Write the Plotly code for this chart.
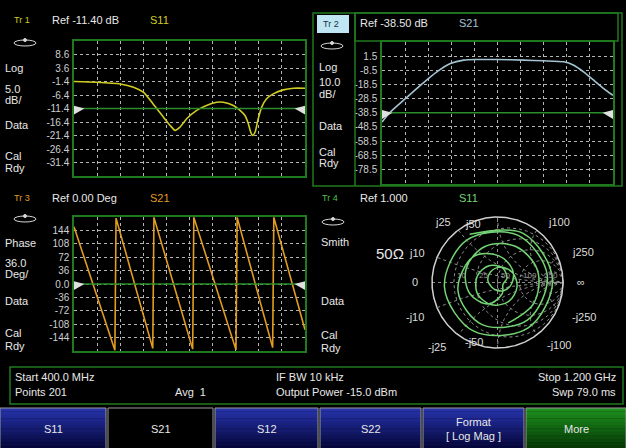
import numpy as np
import plotly.graph_objects as go

W, H = 626, 448

# ---------------- data ----------------
start_mhz = 400.0
stop_mhz = 1200.0
freq_grid_mhz = [480, 560, 640, 720, 800, 880, 960, 1040, 1120]

# Trace 1 : S11 Log Mag
tr1_freq_mhz = [400, 478, 560, 606, 640, 674, 710, 733, 750, 767, 790, 825, 859, 894, 917,
                952, 975, 992, 1004, 1012, 1018, 1027, 1038, 1050, 1067, 1090, 1125, 1160, 1200]
tr1_s11_db = [-1.4, -1.65, -2.3, -3.5, -5.35, -9.7, -14.6, -17.7, -19.5, -18.3, -15.2, -12.1, -10.3, -9.1, -9.1,
              -10.3, -12.1, -14.0, -17.1, -20.2, -21.4, -20.2, -15.2, -10.9, -7.8, -6.0, -4.5, -3.9, -3.9]
tr1_ref = -11.40
tr1_per_div = 5.0
tr1_tick_vals = [8.6, 3.6, -1.4, -6.4, -11.4, -16.4, -21.4, -26.4, -31.4]
tr1_tick_text = ["8.6", "3.6", "-1.4", "-6.4", "-11.4", "-16.4", "-21.4", "-26.4", "-31.4"]

# Trace 2 : S21 Log Mag
tr2_freq_mhz = [400, 429, 481, 533, 590, 637, 683, 729, 798, 890, 960, 1029, 1064, 1098, 1133, 1168, 1200]
tr2_s21_db = [-45.1, -38.0, -28.5, -19.1, -9.6, -3.7, -1.3, -0.9, -0.9, -1.3, -1.8, -2.5, -4.9, -9.6, -15.5, -21.4, -26.2]
tr2_ref = -38.50
tr2_per_div = 10.0
tr2_tick_vals = [1.5, -8.5, -18.5, -28.5, -38.5, -48.5, -58.5, -68.5, -78.5]
tr2_tick_text = ["1.5", "-8.5", "-18.5", "-28.5", "-38.5", "-48.5", "-58.5", "-68.5", "-78.5"]

# Trace 3 : S21 Phase
tr3_freq_mhz = [400, 541.6, 545.6, 672.8, 676.8, 811, 815, 961, 965, 1088, 1092, 1200]
tr3_s21_deg = [153.6, -178, 177, -173, 179, -175, 179, -177, 179, -171, 179, -123]
tr3_ref = 0.0
tr3_per_div = 36.0
tr3_tick_vals = [144, 108, 72, 36, 0, -36, -72, -108, -144]
tr3_tick_text = ["144", "108", "72", "36", "0.0", "-36", "-72", "-108", "-144"]

# Trace 4 : S11 Smith (magnitude dB, phase deg), 400..1200 MHz in 20 MHz steps
tr4_s11_db = [-1.4, -1.45, -1.5, -1.55, -1.65, -1.8, -1.95, -2.1, -2.3, -2.7, -3.3, -4.2, -5.35, -7.8,
              -10.4, -13.3, -16.0, -18.5, -18.9, -16.6, -14.3, -12.4, -11.2, -10.3, -9.5, -9.1, -9.1,
              -9.8, -10.8, -12.6, -15.9, -21.0, -14.6, -9.0, -6.8, -5.6, -4.7, -4.2, -3.9, -3.9, -3.9]
tr4_s11_deg = [120, 62, 3, -56, -116, -175, 126, 67, 8, -51, -110, -168, 133,
               87, 41, -5, -51, -97, -143, 171, 125, 79, 33, -13, -59, -105, -151, 163,
               117, 71, 25, -21, -67, -113, -159, 155, 109, 63, 17, -29, -75]
smith_r_grid = [0.2, 0.5, 1.0, 2.0, 5.0]
smith_x_grid = [0.2, 0.5, 1.0, 2.0, 5.0]
smith_r_labels = ["10", "25", "50", "100", "250"]

# ---------------- styling ----------------
FONT = "Liberation Sans"
GREEN = "#1f7a1f"
GRID = "#b4b4b4"
WHITE = "#e8e8e8"
C_TR1 = "#d0cc22"
C_TR2 = "#a4c4d4"
C_TR3 = "#e29c22"
C_TR4 = "#74d474"


def fx(p):
    return p / W


def fy(p):
    return 1 - p / H


fig = go.Figure()
shapes = []
annotations = []


def text(s, x, y, color=WHITE, size=11, anchor="left"):
    annotations.append(dict(text=s, x=fx(x), y=fy(y), xref="paper", yref="paper",
                            xanchor=anchor, yanchor="middle", showarrow=False,
                            font=dict(family=FONT, size=size, color=color)))


def rect(x0, y0, x1, y1, line=None, fill=None, width=1.5, layer="above"):
    shapes.append(dict(type="rect", xref="paper", yref="paper",
                       x0=fx(x0), x1=fx(x1), y0=fy(y0), y1=fy(y1),
                       line=dict(color=line if line else "rgba(0,0,0,0)", width=width if line else 0),
                       fillcolor=fill if fill else "rgba(0,0,0,0)", layer=layer))


def ellipse_icon(x0, y0, x1, y1):
    shapes.append(dict(type="circle", xref="paper", yref="paper",
                       x0=fx(x0), x1=fx(x1), y0=fy(y0), y1=fy(y1),
                       line=dict(color="#d8d8d8", width=1)))
    cx = (x0 + x1) / 2
    shapes.append(dict(type="circle", xref="paper", yref="paper",
                       x0=fx(cx - 1.5), x1=fx(cx + 1.5), y0=fy(y0 - 1.5), y1=fy(y0 + 1.5),
                       line=dict(color="#d8d8d8", width=1), fillcolor="#d8d8d8"))


axis_base = dict(showline=True, mirror=True, linecolor=GREEN, linewidth=1.5,
                 showgrid=True, gridcolor=GRID, gridwidth=1, griddash="dot",
                 zeroline=False, ticks="", fixedrange=True)


def rect_plot(idx, xdom, ydom, freqs, vals, color, ref, per_div, tvals, ttext, spline=True):
    xa = "xaxis" if idx == 1 else f"xaxis{idx}"
    ya = "yaxis" if idx == 1 else f"yaxis{idx}"
    xs = "x" if idx == 1 else f"x{idx}"
    ys = "y" if idx == 1 else f"y{idx}"
    lo, hi = ref - 5 * per_div, ref + 5 * per_div
    fig.update_layout(**{
        xa: dict(axis_base, domain=[fx(xdom[0]), fx(xdom[1])], range=[start_mhz, stop_mhz],
                 tickvals=freq_grid_mhz, showticklabels=False, anchor=ys),
        ya: dict(axis_base, domain=[fy(ydom[1]), fy(ydom[0])], range=[lo, hi],
                 tickvals=tvals, ticktext=ttext, anchor=xs, ticklabelstandoff=1,
                 tickfont=dict(family=FONT, size=10, color="#cfcfcf")),
    })
    fig.add_trace(go.Scatter(x=freqs, y=vals, xaxis=xs, yaxis=ys, mode="lines",
                             line=dict(color=color, width=1.6,
                                       shape="spline" if spline else "linear", smoothing=0.6),
                             hoverinfo="skip", showlegend=False))
    # reference line
    shapes.append(dict(type="line", xref=f"{xs} domain", x0=0, x1=1, yref=ys, y0=ref, y1=ref,
                       line=dict(color="#2a8c2a", width=1.5)))
    f = (ref - lo) / (hi - lo)
    shapes.append(dict(type="path", xref=f"{xs} domain", yref=f"{ys} domain",
                       path=f"M 0,{f + 0.02} L 0.045,{f} L 0,{f - 0.045} Z",
                       fillcolor="#e0e0e0", line=dict(width=0)))
    shapes.append(dict(type="path", xref=f"{xs} domain", yref=f"{ys} domain",
                       path=f"M 1,{f + 0.02} L 0.955,{f} L 1,{f - 0.045} Z",
                       fillcolor="#e0e0e0", line=dict(width=0)))


# ---------- Tr1 ----------
rect_plot(1, (74, 305), (41, 176), tr1_freq_mhz, tr1_s11_db, C_TR1, tr1_ref, tr1_per_div,
          tr1_tick_vals, tr1_tick_text)
text("Tr 1", 12, 20, C_TR1, 9)
text("Ref -11.40 dB", 50, 20, WHITE, 11)
text("S11", 148, 20, C_TR1, 11)
ellipse_icon(14, 40, 36, 46)
for s, yy in [("Log", 68), ("5.0", 89), ("dB/", 100), ("Data", 125), ("Cal", 156), ("Rdy", 168)]:
    text(s, 3, yy, WHITE, 11)

# ---------- Tr2 ----------
rect_plot(2, (382, 613), (42, 183.5), tr2_freq_mhz, tr2_s21_db, C_TR2, tr2_ref, tr2_per_div,
          tr2_tick_vals, tr2_tick_text)
rect(313, 13, 622, 186, line=GREEN, width=1.5)
rect(355, 13, 618, 41, line=GREEN, width=1.5)
shapes.append(dict(type="line", xref="paper", yref="paper", x0=fx(355), x1=fx(355),
                   y0=fy(13), y1=fy(186), line=dict(color=GREEN, width=1.5)))
rect(317, 15, 349, 33, fill="#bfe6f2")
text("Tr 2", 321, 24, "#16323e", 9)
text("Ref -38.50 dB", 358, 23, WHITE, 11)
text("S21", 457, 23, C_TR2, 11)
ellipse_icon(321, 43, 343, 49)
for s, yy in [("Log", 67), ("10.0", 82), ("dB/", 94), ("Data", 126), ("Cal", 152), ("Rdy", 163)]:
    text(s, 317, yy, WHITE, 11)

# ---------- Tr3 ----------
rect_plot(3, (74, 305), (217, 351), tr3_freq_mhz, tr3_s21_deg, C_TR3, tr3_ref, tr3_per_div,
          tr3_tick_vals, tr3_tick_text, spline=False)
text("Tr 3", 12, 198, C_TR3, 9)
text("Ref 0.00 Deg", 50, 198, WHITE, 11)
text("S21", 148, 198, C_TR3, 11)
ellipse_icon(14, 216, 36, 222)
for s, yy in [("Phase", 243), ("36.0", 263), ("Deg/", 274), ("Data", 301), ("Cal", 333), ("Rdy", 346)]:
    text(s, 3, yy, WHITE, 11)

# ---------- Tr4 Smith ----------
SC_X, SC_Y, SC_R = 497.5, 282.5, 65.5
pad = 1.04
fig.update_layout(
    xaxis4=dict(domain=[fx(SC_X - SC_R * pad), fx(SC_X + SC_R * pad)], range=[-pad, pad],
                visible=False, fixedrange=True, anchor="y4"),
    yaxis4=dict(domain=[fy(SC_Y + SC_R * pad), fy(SC_Y - SC_R * pad)], range=[-pad, pad],
                visible=False, fixedrange=True, anchor="x4"),
)
tt = np.linspace(0, 2 * np.pi, 721)
gx, gy = [], []
for r in smith_r_grid:
    c, rad = r / (1 + r), 1 / (1 + r)
    gx += list(c + rad * np.cos(tt)) + [None]
    gy += list(rad * np.sin(tt)) + [None]
for xv in smith_x_grid:
    for sgn in (1, -1):
        cy, rad = sgn / xv, 1 / xv
        ax_ = 1 + rad * np.cos(tt)
        ay_ = cy + rad * np.sin(tt)
        inside = ax_ ** 2 + ay_ ** 2 <= 1.0005
        for a, b, m in zip(ax_, ay_, inside):
            gx.append(float(a) if m else None)
            gy.append(float(b) if m else None)
        gx.append(None)
        gy.append(None)
gx += [-1, 1, None, 0, 0]
gy += [0, 0, None, -1, 1]
fig.add_trace(go.Scatter(x=gx, y=gy, xaxis="x4", yaxis="y4", mode="lines",
                         line=dict(color="#8c8c8c", width=1, dash="dot"),
                         hoverinfo="skip", showlegend=False))
fig.add_trace(go.Scatter(x=list(np.cos(tt)), y=list(np.sin(tt)), xaxis="x4", yaxis="y4",
                         mode="lines", line=dict(color="#cfcfcf", width=1.5),
                         hoverinfo="skip", showlegend=False))
mag = 10 ** (np.array(tr4_s11_db) / 20)
ang = np.radians(np.array(tr4_s11_deg))
fig.add_trace(go.Scatter(x=mag * np.cos(ang), y=mag * np.sin(ang), xaxis="x4", yaxis="y4",
                         mode="lines", line=dict(color=C_TR4, width=1.5, shape="spline", smoothing=1.0),
                         hoverinfo="skip", showlegend=False))
for lab, r in zip(smith_r_labels, smith_r_grid):
    gxr = (r - 1) / (r + 1)
    annotations.append(dict(text=lab, x=gxr + 0.02, y=0.1, xref="x4", yref="y4",
                            xanchor="left", yanchor="middle", showarrow=False,
                            font=dict(family=FONT, size=8, color="#9a9a9a")))

text("Tr 4", 320, 198, "#4cc04c", 9)
text("Ref 1.000", 358, 198, WHITE, 11)
text("S11", 457, 198, C_TR4, 11)
ellipse_icon(322, 219, 344, 225)
for s, yy in [("Smith", 242), ("Data", 301), ("Cal", 335), ("Rdy", 348)]:
    text(s, 319, yy, WHITE, 11)
text("50Ω", 374, 253, WHITE, 15)
for s, xx, yy, anc in [("j10", 407, 253, "left"), ("0", 410, 282, "left"), ("-j10", 404, 317, "left"),
                       ("j25", 433, 222, "left"), ("j50", 463, 224, "left"), ("-j25", 426, 347, "left"),
                       ("-j50", 463, 342, "left"), ("j100", 546, 222, "left"), ("j250", 570, 252, "left"),
                       ("∞", 575, 282, "left"), ("-j250", 570, 317, "left"), ("-j100", 545, 345, "left")]:
    text(s, xx, yy, "#dcdcdc", 11, anc)

# ---------- status bar ----------
rect(10, 367, 623, 404, line=GREEN, width=1.5)
text("Start 400.0 MHz", 13, 377, WHITE, 11)
text("Points 201", 13, 392, WHITE, 11)
text("Avg  1", 173, 392, WHITE, 11)
text("IF BW 10 kHz", 274, 377, WHITE, 11)
text("Output Power -15.0 dBm", 274, 392, WHITE, 11)
text("Stop 1.200 GHz", 618, 377, WHITE, 11, "right")
text("Swp 79.0 ms", 618, 392, WHITE, 11, "right")


# ---------- soft keys ----------
def lerp(c1, c2, t):
    a = [int(c1[i:i + 2], 16) for i in (1, 3, 5)]
    b = [int(c2[i:i + 2], 16) for i in (1, 3, 5)]
    return "#" + "".join(f"{int(round(a[k] + (b[k] - a[k]) * t)):02x}" for k in range(3))


buttons = [("S11", 0, 106, "blue"), ("S21", 108, 213, "black"), ("S12", 215, 318, "blue"),
           ("S22", 320, 421, "blue"), ("Format<br>[ Log Mag ]", 423, 524, "blue"),
           ("More", 526, 626, "green")]
BT, BB = 408, 449
nb = 12
for lab, x0, x1, kind in buttons:
    if kind == "black":
        rect(x0, BT, x1, BB, fill="#000000", layer="below")
    else:
        top, bot = ("#2632a8", "#05073c") if kind == "blue" else ("#1d8e1d", "#053805")
        for i in range(nb):
            y0 = BT + (BB - BT) * i / nb
            y1 = BT + (BB - BT) * (i + 1) / nb
            rect(x0, y0, x1, y1 + 0.3, fill=lerp(top, bot, i / (nb - 1)), layer="below")
    rect(x0, BT, x1, BB, line="#9a9a9a", width=1, layer="below")
    text(lab, (x0 + x1) / 2, 429, WHITE, 11, "center")

fig.update_layout(
    width=W, height=H, margin=dict(l=0, r=0, t=0, b=0),
    paper_bgcolor="#000000", plot_bgcolor="#000000",
    showlegend=False, shapes=shapes, annotations=annotations,
    font=dict(family=FONT, color=WHITE),
)
fig.write_html("out.html", config={"displayModeBar": False},
               post_script="document.body.style.margin='0px';document.body.style.background='#000';")
